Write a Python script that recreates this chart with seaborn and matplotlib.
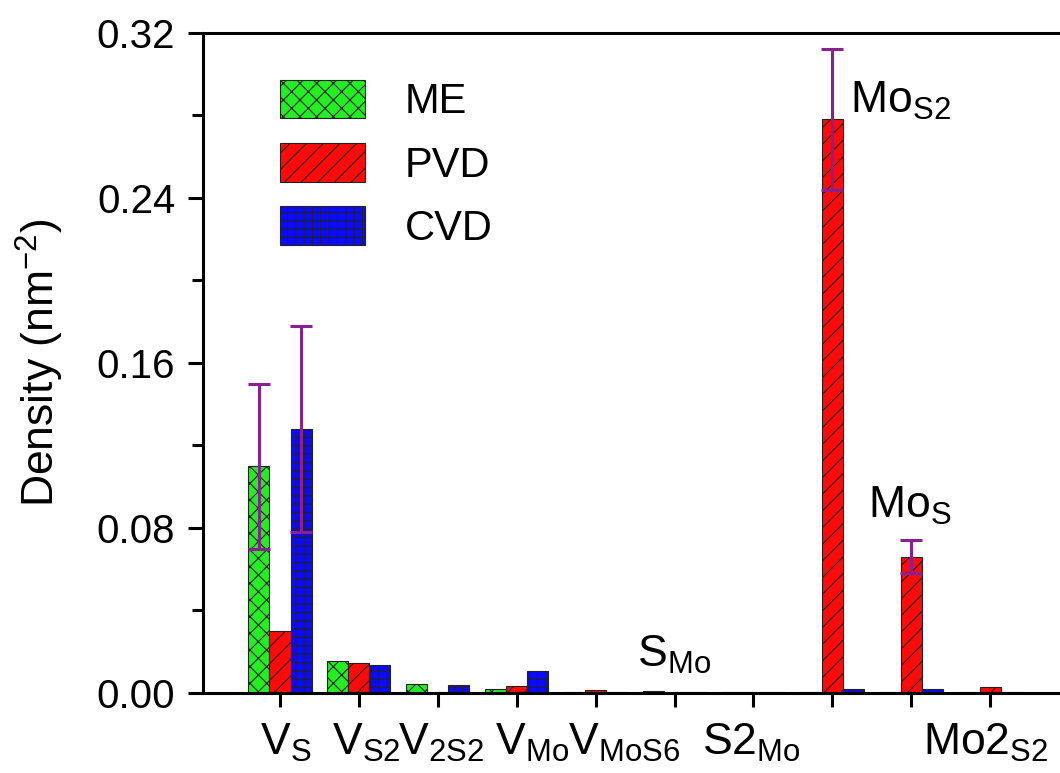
import matplotlib
matplotlib.use("Agg")
import matplotlib.pyplot as plt
import numpy as np
import pandas as pd
import seaborn as sns
from matplotlib.ticker import MultipleLocator

# Defect types (x categories) and their axis labels
defects = ["VS", "VS2", "V2S2", "VMo", "VMoS6", "SMo", "S2Mo", "MoS2", "MoS", "Mo2S2"]
tick_labels = [r"V$_\mathregular{S}$", r"V$_\mathregular{S2}$", r"V$_\mathregular{2S2}$",
               r"V$_\mathregular{Mo}$", r"V$_\mathregular{MoS6}$", "",
               r"S2$_\mathregular{Mo}$", "", "", r"Mo2$_\mathregular{S2}$"]
methods = ["ME", "PVD", "CVD"]

# Defect densities (nm^-2) per growth method
me_density = [0.110, 0.0155, 0.0044, 0.0020, 0.0005, 0.0010, 0.0003, 0.0003, 0.0003, 0.0003]
pvd_density = [0.030, 0.0145, 0.0003, 0.0034, 0.0015, 0.0003, 0.0003, 0.278, 0.066, 0.0030]
cvd_density = [0.128, 0.0136, 0.0039, 0.0107, 0.0005, 0.0003, 0.0003, 0.0020, 0.0020, 0.0003]

# Standard deviations
me_err = [0.040, 0, 0, 0, 0, 0, 0, 0, 0, 0]
pvd_err = [0, 0, 0, 0, 0, 0, 0, 0.034, 0.008, 0]
cvd_err = [0.050, 0, 0, 0, 0, 0, 0, 0, 0, 0]

colors = ["#22ee22", "#ff0a0a", "#0a0aff"]
hatches = ["xx", "//", "++"]
err_color = "#8a1f8f"

# left edge of each category label relative to its tick (pixels), so the crowded labels fit
label_shift_px = [-20, -27, -40, -22, -28, 0, -51, 0, 0, -67]

sns.set_style("ticks")
plt.rcParams["font.family"] = ["Liberation Sans", "DejaVu Sans"]
plt.rcParams["mathtext.fontset"] = "custom"
plt.rcParams["mathtext.rm"] = "Liberation Sans"
plt.rcParams["mathtext.it"] = "Liberation Sans:italic"
plt.rcParams["mathtext.bf"] = "Liberation Sans:bold"
plt.rcParams["hatch.linewidth"] = 0.8
plt.rcParams["hatch.color"] = "#222222"
for key in ["text.color", "axes.labelcolor", "xtick.color", "ytick.color", "axes.edgecolor"]:
    plt.rcParams[key] = "black"

df = pd.DataFrame({
    "defect": defects * 3,
    "method": sum([[m] * len(defects) for m in methods], []),
    "density": me_density + pvd_density + cvd_density,
})
errors = {"ME": me_err, "PVD": pvd_err, "CVD": cvd_err}

fig = plt.figure(figsize=(10.6, 7.73), dpi=100)
ax = fig.add_axes([0.1915, 0.1035, 0.817, 0.854])

sns.barplot(data=df, x="defect", y="density", hue="method", order=defects,
            hue_order=methods, palette=colors, errorbar=None, width=0.8,
            edgecolor="#222222", linewidth=0.8, saturation=1, ax=ax)

bar_containers = list(ax.containers)
for container, hatch, method in zip(bar_containers, hatches, methods):
    for patch in container.patches:
        patch.set_hatch(hatch)
    xs, ys, es = [], [], []
    vals = df[df.method == method]["density"].tolist()
    for patch, val, err in zip(container.patches, vals, errors[method]):
        if err > 0:
            xs.append(patch.get_x() + patch.get_width() / 2)
            ys.append(val)
            es.append(err)
    if xs:
        ax.errorbar(xs, ys, yerr=es, fmt="none", ecolor=err_color, elinewidth=2.2,
                    capsize=8, capthick=2.2, zorder=5)

# Labels written above the bars
ax.text(5, 0.0185, r"S$_\mathregular{Mo}$", fontsize=32, ha="center", va="center")
ax.text(7.23, 0.287, r"Mo$_\mathregular{S2}$", fontsize=32, ha="left", va="center")
ax.text(7.98, 0.0905, r"Mo$_\mathregular{S}$", fontsize=32, ha="center", va="center")

ax.set_xlim(-0.976, 10.0)
ax.set_ylim(0, 0.32)
ax.set_xticks(range(len(defects)))
ax.set_xticklabels([""] * len(defects))
# category labels under the axis, nudged sideways where they crowd
for i, (lab, dx) in enumerate(zip(tick_labels, label_shift_px)):
    if lab:
        ax.annotate(lab, xy=(i, 0), xycoords=ax.get_xaxis_transform(),
                    xytext=(dx * 0.72, -20.5), textcoords="offset points",
                    ha="left", va="top", fontsize=32, annotation_clip=False)

ax.yaxis.set_minor_locator(MultipleLocator(0.04))
yt = np.arange(0, 0.33, 0.08)
ax.set_yticks(yt)
ax.set_yticklabels([f"{v:.2f}" for v in yt], fontsize=29)
ax.tick_params(axis="x", which="major", direction="out", length=10, width=2.2)
ax.tick_params(axis="y", which="major", direction="out", length=11, width=2.2, pad=9)
ax.tick_params(axis="y", which="minor", direction="out", length=8, width=2.2)
ax.set_xlabel("")
ax.set_ylabel(r"Density (nm$^{-2}$)", fontsize=32)
ax.yaxis.set_label_coords(-0.158, 0.5)

for side in ["left", "top", "bottom", "right"]:
    ax.spines[side].set_linewidth(2.2)
    ax.spines[side].set_color("black")

handles = [c.patches[0] for c in bar_containers]
ax.legend(handles, methods, loc="upper left", bbox_to_anchor=(0.089, 0.929),
          frameon=False, fontsize=30, handlelength=2.05, handleheight=1.05,
          handletextpad=0.95, labelspacing=0.5, borderpad=0, borderaxespad=0)

fig.savefig("out.png", dpi=100)
